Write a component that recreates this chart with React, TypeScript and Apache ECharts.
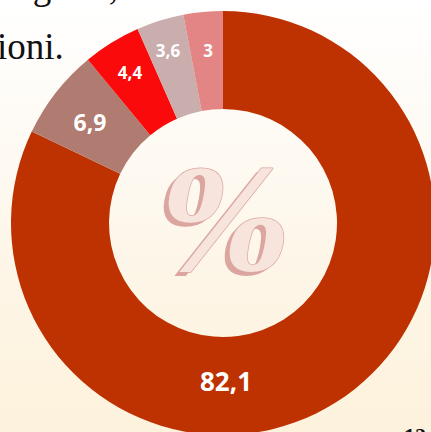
import React, { useEffect, useRef } from "react";
import * as echarts from "echarts";

const categories = ["A", "B", "C", "D", "E"];
const values = [82.1, 6.9, 4.4, 3.6, 3];
const valueLabels = ["82,1", "6,9", "4,4", "3,6", "3"];
const sliceColors = ["#BE3100", "#B07B70", "#FA0A0A", "#C9AEAD", "#E48585"];
const labelPositions = [
  [226, 381],
  [90, 122],
  [130, 72],
  [168, 50],
  [208, 50],
];
const labelSizes = [26, 23, 17, 17, 17];

export default function App() {
  const ref = useRef<HTMLDivElement>(null);
  useEffect(() => {
    document.body.style.margin = "0";
    const chart = echarts.init(ref.current!, undefined, { renderer: "svg" });
    const pink = "#DBA69F";
    chart.setOption({
      animation: false,
      series: [
        {
          type: "pie",
          center: [223, 223],
          radius: [114, 212],
          startAngle: 90,
          clockwise: true,
          silent: true,
          label: {
            show: true,
            position: "inside",
            color: "#FFFFFF",
            fontFamily: "Open Sans",
            fontWeight: "bold",
            formatter: (p: any) => valueLabels[p.dataIndex],
          },
          labelLine: { show: false },
          labelLayout: (p: any) => ({
            x: labelPositions[p.dataIndex][0],
            y: labelPositions[p.dataIndex][1],
            align: "center",
            verticalAlign: "middle",
            fontSize: labelSizes[p.dataIndex],
          }),
          itemStyle: { borderWidth: 0 },
          data: categories.map((c, i) => ({
            name: c,
            value: values[i],
            itemStyle: { color: sliceColors[i] },
          })),
        },
      ],
      graphic: [
        {
          type: "text",
          x: 4,
          y: -32,
          style: {
            text: "regioni,",
            font: "37px 'Liberation Serif'",
            fill: "#111",
          },
        },
        {
          type: "text",
          x: -3,
          y: 28,
          style: {
            text: "ioni.",
            font: "37px 'Liberation Serif'",
            fill: "#111",
          },
        },
        {
          type: "text",
          x: 221,
          y: 226,
          style: {
            text: "%",
            font: "italic bold 136px 'DejaVu Serif'",
            fill: pink,
            align: "center",
            verticalAlign: "middle",
          },
        },
        {
          type: "text",
          x: 226,
          y: 222,
          style: {
            text: "%",
            font: "italic bold 136px 'DejaVu Serif'",
            fill: "#F6E4DD",
            stroke: pink,
            lineWidth: 1.5,
            align: "center",
            verticalAlign: "middle",
          },
        },
        {
          type: "text",
          left: 404,
          top: 424,
          style: {
            text: "12",
            font: "bold 22px 'Liberation Serif'",
            fill: "#111",
          },
        },
      ],
    });
    return () => chart.dispose();
  }, []);
  return (
    <div
      ref={ref}
      style={{
        position: "fixed",
        left: 0,
        top: 0,
        width: 431,
        height: 432,
        background:
          "linear-gradient(to bottom, #FFFFFF 0%, #FEFAF3 35%, #FDF5E6 65%, #FDF2DC 100%)",
      }}
    />
  );
}
